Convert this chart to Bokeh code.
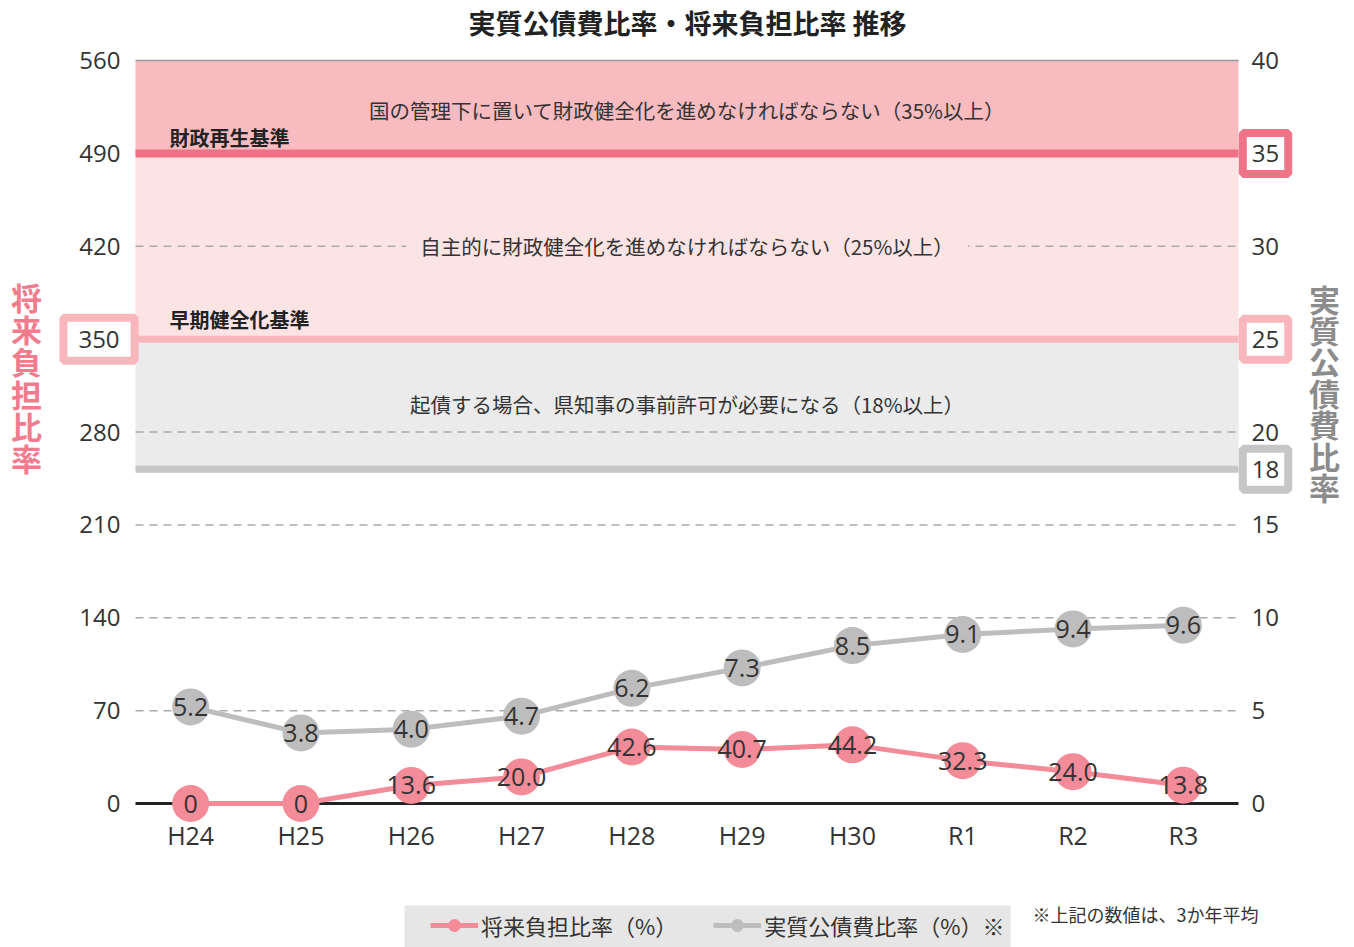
from bokeh.plotting import figure
from bokeh.models import (Range1d, LinearAxis, FixedTicker, BoxAnnotation, Label, Legend,
                          LegendItem, ColumnDataSource)
from bokeh.core.properties import value
from bokeh.embed import file_html
from bokeh.resources import INLINE

# ---------------- data ----------------
years = ["H24", "H25", "H26", "H27", "H28", "H29", "H30", "R1", "R2", "R3"]
future_burden = [0, 0, 13.6, 20.0, 42.6, 40.7, 44.2, 32.3, 24.0, 13.8]          # 将来負担比率 (left axis)
future_labels = ["0", "0", "13.6", "20.0", "42.6", "40.7", "44.2", "32.3", "24.0", "13.8"]
debt_service = [5.2, 3.8, 4.0, 4.7, 6.2, 7.3, 8.5, 9.1, 9.4, 9.6]               # 実質公債費比率 (right axis)
debt_labels = ["5.2", "3.8", "4.0", "4.7", "6.2", "7.3", "8.5", "9.1", "9.4", "9.6"]
left_ticks = [0, 70, 140, 210, 280, 350, 420, 490, 560]
right_ticks = [0, 5, 10, 15, 20, 25, 30, 35, 40]
left_max, right_max = 560, 40
early_left = 350            # 早期健全化基準 (将来負担比率)
reconstruction = 35         # 財政再生基準 (実質公債費比率)
early = 25                  # 早期健全化基準 (実質公債費比率)
permit = 18                 # 許可団体移行基準
band_texts = ["国の管理下に置いて財政健全化を進めなければならない（35%以上）",
              "自主的に財政健全化を進めなければならない（25%以上）",
              "起債する場合、県知事の事前許可が必要になる（18%以上）"]
title_text = "実質公債費比率・将来負担比率 推移"
left_title = "将来負担比率"
right_title = "実質公債費比率"
legend_labels = ["将来負担比率（%）", "実質公債費比率（%）※"]
note_text = "※上記の数値は、3か年平均"

JP = "Noto Sans CJK JP"
NUM = "Open Sans"
PINK = "#f48b98"
GRAY = "#bdbdbd"
TXT = "#333333"

W, H = 1354, 947
PL, PR, PT, PB = 135, 1238, 60, 803          # plot area in pixels
n = len(years)
xpx = (PR - PL) / n
ypx = (PB - PT) / left_max
ratio = left_max / right_max


def X(px):
    return -0.5 + (px - PL) / xpx


def Y(py):
    return (PB - py) / ypx


x_idx = list(range(n))
x_lo, x_hi = -0.5, n - 0.5

p = figure(width=W, height=H, output_backend="svg", toolbar_location=None,
           x_range=Range1d(X(0), X(W)), y_range=Range1d(Y(H), Y(0)),
           x_axis_type=None, y_axis_type=None, min_border=0, outline_line_color=None)
p.extra_y_ranges = {"r": Range1d(Y(H) / ratio, Y(0) / ratio)}

# ---------- axes (fixed at the plot-area edges) ----------
common = dict(axis_line_color=None, major_tick_line_color=None, minor_tick_line_color=None,
              major_tick_in=0, major_tick_out=0, minor_tick_in=0, minor_tick_out=0,
              major_label_text_font=NUM, major_label_text_color=TXT)
lax = LinearAxis(fixed_location=x_lo, ticker=FixedTicker(ticks=[t for t in left_ticks if t != early_left]),
                 major_label_standoff=15, major_label_text_font_size="24px", **common)
p.add_layout(lax, "left")
rax = LinearAxis(fixed_location=x_hi, y_range_name="r",
                 ticker=FixedTicker(ticks=[t for t in right_ticks if t not in (reconstruction, early)]),
                 major_label_standoff=13, major_label_text_font_size="24px", **common)
p.add_layout(rax, "right")
bax = LinearAxis(fixed_location=0, ticker=FixedTicker(ticks=x_idx),
                 major_label_overrides={i: y for i, y in enumerate(years)},
                 major_label_standoff=14, major_label_text_font_size="25px", **common)
p.add_layout(bax, "below")

# ---------- bands ----------
p.quad(left=x_lo, right=x_hi, bottom=reconstruction, top=right_max, y_range_name="r",
       fill_color="#f8bcc0", line_color=None, level="underlay")
p.quad(left=x_lo, right=x_hi, bottom=early, top=reconstruction, y_range_name="r",
       fill_color="#fde4e4", line_color=None, level="underlay")
p.quad(left=x_lo, right=x_hi, bottom=permit, top=early, y_range_name="r",
       fill_color="#ebebeb", line_color=None, level="underlay")

grid_vals = [t for t in left_ticks if t not in (0, early_left, reconstruction * ratio, left_max)]
p.segment(x0=[x_lo] * len(grid_vals), x1=[x_hi] * len(grid_vals), y0=grid_vals, y1=grid_vals,
          line_color="#aaaaaa", line_width=1.5, line_dash="8 6", level="underlay")
p.segment(x0=[x_lo], x1=[x_hi], y0=[left_max], y1=[left_max], line_color="#999999",
          line_width=1.5, level="underlay")
p.segment(x0=[x_lo], x1=[x_hi], y0=[0], y1=[0], line_color="#222222", line_width=3, level="underlay")

# threshold lines
p.segment(x0=[x_lo], x1=[x_hi], y0=[reconstruction], y1=[reconstruction], y_range_name="r",
          line_color="#f07086", line_width=8, level="underlay")
p.segment(x0=[x_lo], x1=[x_hi], y0=[early], y1=[early], y_range_name="r",
          line_color="#f8b6bd", line_width=7, level="underlay")
p.segment(x0=[x_lo], x1=[x_hi], y0=[permit], y1=[permit], y_range_name="r",
          line_color="#c6c6c6", line_width=7, level="underlay")

# ---------- series ----------
src1 = ColumnDataSource(dict(x=x_idx, y=future_burden, t=future_labels))
src2 = ColumnDataSource(dict(x=x_idx, y=debt_service, t=debt_labels))
p.line("x", "y", source=src2, y_range_name="r", line_color=GRAY, line_width=5)
p.scatter("x", "y", source=src2, y_range_name="r", size=37, fill_color=GRAY, line_color=None)
p.line("x", "y", source=src1, line_color=PINK, line_width=5)
p.scatter("x", "y", source=src1, size=37, fill_color=PINK, line_color=None)
p.text("x", "y", text="t", source=src2, y_range_name="r", text_align="center", text_baseline="middle",
       text_font=value(NUM), text_font_size="25px", text_color=TXT)
p.text("x", "y", text="t", source=src1, text_align="center", text_baseline="middle",
       text_font=value(NUM), text_font_size="25px", text_color=TXT)

# ---------- texts ----------
xc = (x_lo + x_hi) / 2
p.add_layout(Label(x=X(687), y=Y(22), text=title_text, text_align="center", text_baseline="middle",
                   text_font=JP, text_font_size="27px", text_font_style="bold", text_color="#222222"))
p.add_layout(Label(x=xc, y=Y(109), text=band_texts[0], text_align="center", text_baseline="middle",
                   text_font=JP, text_font_size="20.5px", text_color=TXT))
p.add_layout(Label(x=xc, y=30, y_range_name="r", text=band_texts[1], text_align="center",
                   text_baseline="middle", text_font=JP, text_font_size="20.5px", text_color=TXT,
                   background_fill_color="#fde4e4", padding=(14, 0)))
p.add_layout(Label(x=xc, y=Y(403), text=band_texts[2], text_align="center", text_baseline="middle",
                   text_font=JP, text_font_size="20.5px", text_color=TXT))
p.add_layout(Label(x=X(169), y=Y(137), text="財政再生基準", text_align="left", text_baseline="middle",
                   text_font=JP, text_font_size="20px", text_font_style="bold", text_color="#222222"))
p.add_layout(Label(x=X(169), y=Y(319), text="早期健全化基準", text_align="left", text_baseline="middle",
                   text_font=JP, text_font_size="20px", text_font_style="bold", text_color="#222222"))


def boxed(xp, yv, txt, color, pad, rname="default"):
    p.add_layout(Label(x=X(xp), y=yv, y_range_name=rname, text=txt,
                       text_align="center", text_baseline="middle", text_font=NUM,
                       text_font_size="24px", text_color=TXT, background_fill_color="white",
                       border_line_color=color, border_line_width=8, padding=pad))


boxed(98.5, early_left, str(early_left), "#f8b6bd", (15, 13))
boxed(1265, reconstruction, str(reconstruction), "#f07388", (9, 12), "r")
boxed(1265, early, str(early), "#f8b6bd", (9, 12), "r")
boxed(1265, permit, str(permit), "#c6c6c6", (9, 12), "r")

for i, ch in enumerate(left_title):
    p.add_layout(Label(x=X(26), y=Y(296 + 32.2 * i), text=ch, text_align="center", text_baseline="middle",
                       text_font=JP, text_font_size="31px", text_font_style="bold", text_color="#f27b8e"))
for i, ch in enumerate(right_title):
    p.add_layout(Label(x=X(1324), y=Y(297.5 + 31.4 * i), text=ch, text_align="center", text_baseline="middle",
                       text_font=JP, text_font_size="31px", text_font_style="bold", text_color="#8c8c8c"))

p.add_layout(Label(x=X(1032), y=Y(913), text=note_text, text_align="left", text_baseline="middle",
                   text_font=JP, text_font_size="18px", text_color=TXT))

# ---------- legend ----------
p.add_layout(BoxAnnotation(left=X(404), right=X(1010), top=Y(905), bottom=Y(H + 10),
                           fill_color="#e6e6e6", fill_alpha=1, line_color=None))
nan = float("nan")
l1 = p.line([nan], [nan], line_color=PINK, line_width=5)
s1 = p.scatter([nan], [nan], size=13, fill_color=PINK, line_color=None)
l2 = p.line([nan], [nan], line_color=GRAY, line_width=5)
s2 = p.scatter([nan], [nan], size=13, fill_color=GRAY, line_color=None)
legend = Legend(items=[LegendItem(label=legend_labels[0], renderers=[l1, s1]),
                       LegendItem(label=legend_labels[1], renderers=[l2, s2])],
                orientation="horizontal", location=(430, 6),
                background_fill_alpha=0, border_line_color=None,
                glyph_width=48, glyph_height=32, label_text_font=JP, label_text_font_size="22px",
                label_text_color=TXT, spacing=36, padding=8, label_standoff=3, margin=0)
p.add_layout(legend)

open("out.html", "w").write(file_html(p, INLINE))
